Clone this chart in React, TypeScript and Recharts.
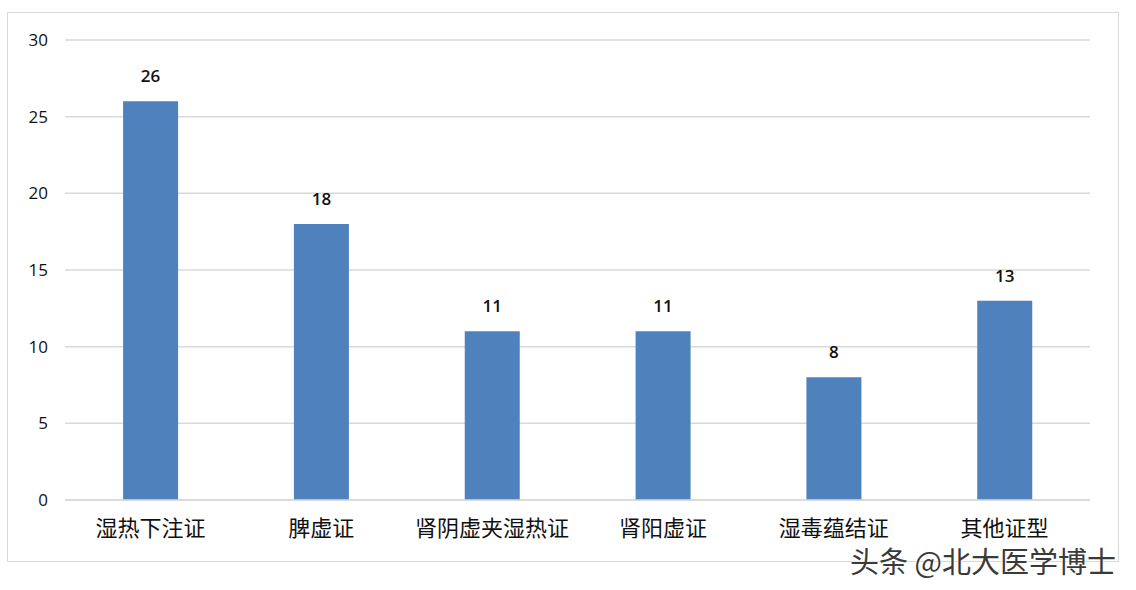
import { BarChart, Bar, XAxis, YAxis, CartesianGrid, LabelList } from "recharts";

// categories and counts
const CATEGORIES = ["湿热下注证", "脾虚证", "肾阴虚夹湿热证", "肾阳虚证", "湿毒蕴结证", "其他证型"];
const COUNTS = [26, 18, 11, 11, 8, 13];
const Y_TICKS = [0, 5, 10, 15, 20, 25, 30];

const data = CATEGORIES.map((name, i) => ({ name, value: COUNTS[i] }));

const BAR_COLOR = "#4f81bd";
const GRID_COLOR = "#d9d9d9";

const App = () => {
  return (
    <div style={{ position: "absolute", left: 0, top: 0, width: 1136, height: 590, background: "#fff" }}>
      {/* outer chart frame */}
      <div
        style={{
          position: "absolute",
          left: 7,
          top: 12,
          width: 1110,
          height: 548,
          border: `1px solid ${GRID_COLOR}`,
        }}
      />
      <div style={{ position: "absolute", left: 0, top: 0 }}>
        <BarChart
          width={1136}
          height={590}
          data={data}
          margin={{ top: 40, right: 46, bottom: 60, left: 0 }}
          barCategoryGap="34%"
        >
          <CartesianGrid vertical={false} stroke={GRID_COLOR} strokeWidth={1.5} />
          <XAxis
            dataKey="name"
            height={30}
            axisLine={{ stroke: GRID_COLOR, strokeWidth: 1.5 }}
            tickLine={false}
            tickSize={0}
            tickMargin={20}
            interval={0}
            tick={{ fill: "#111", fontSize: 22, fontFamily: "Noto Sans CJK SC" }}
          />
          <YAxis
            width={65}
            domain={[0, 30]}
            ticks={Y_TICKS}
            axisLine={false}
            tickLine={false}
            tickSize={0}
            tickMargin={17}
            tick={{ fill: "#111", fontSize: 17, fontFamily: "Open Sans" }}
          />
          <Bar dataKey="value" fill={BAR_COLOR} isAnimationActive={false}>
            <LabelList
              dataKey="value"
              position="top"
              offset={19}
              style={{ fill: "#111", fontSize: 17, fontFamily: "Open Sans", fontWeight: 600 }}
            />
          </Bar>
        </BarChart>
      </div>
      {/* watermark */}
      <div
        style={{
          position: "absolute",
          left: 850,
          top: 545,
          fontSize: 29,
          fontFamily: "Noto Sans CJK SC",
          color: "#3a3a3a",
          textShadow: "0 0 2px #fff, 0 0 2px #fff",
          whiteSpace: "nowrap",
          lineHeight: "30px",
        }}
      >
        头条 @北大医学博士
      </div>
    </div>
  );
};

export default App;
